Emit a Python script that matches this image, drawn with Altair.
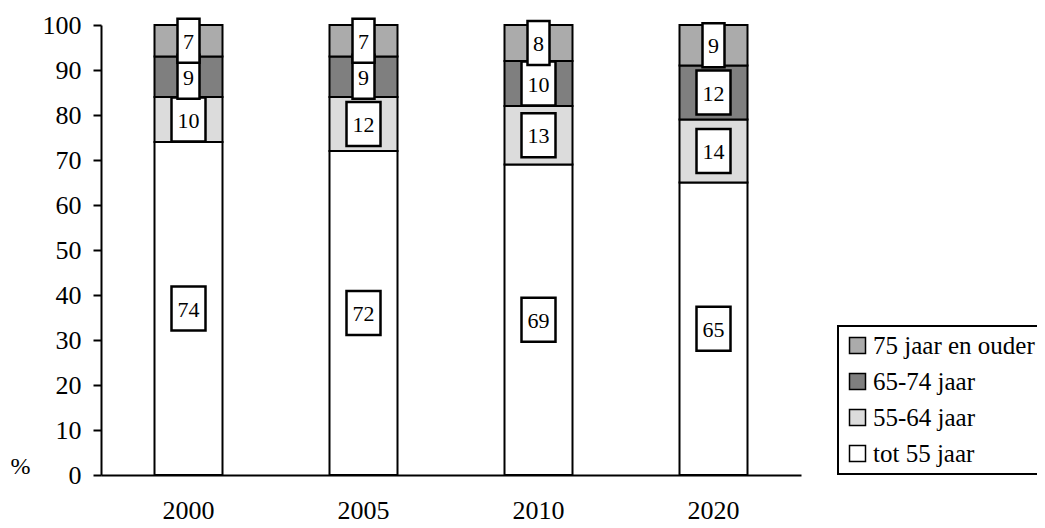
import altair as alt
import pandas as pd

years = ["2000", "2005", "2010", "2020"]
groups = ["tot 55 jaar", "55-64 jaar", "65-74 jaar", "75 jaar en ouder"]
tot55 = [74, 72, 69, 65]
age55_64 = [10, 12, 13, 14]
age65_74 = [9, 9, 10, 12]
age75plus = [7, 7, 8, 9]
colors = ["#ffffff", "#dcdcdc", "#7f7f7f", "#ababab"]

series = [tot55, age55_64, age65_74, age75plus]
rows = []
for yi, yr in enumerate(years):
    base = 0
    for gi, g in enumerate(groups):
        v = series[gi][yi]
        mid = base + v / 2
        rows.append({"year": yr, "group": g, "value": v, "order": gi,
                     "mid": mid, "lo": mid - 4.9, "hi": mid + 4.9,
                     "digits": len(str(v))})
        base += v
df = pd.DataFrame(rows)

FONT = "Times New Roman, Liberation Serif, serif"

x_axis = alt.Axis(title=None, labelAngle=0, ticks=False, labelPadding=22,
                  labelFont=FONT, labelFontSize=26, labelColor="black",
                  domainColor="black", domainWidth=2)
y_axis = alt.Axis(values=list(range(0, 101, 10)), grid=False, tickSize=8,
                  tickWidth=2, tickColor="black", domainColor="black",
                  domainWidth=2, labelPadding=12, labelFont=FONT,
                  labelFontSize=26, labelColor="black",
                  title="%", titleAngle=0, titleX=-81, titleY=448,
                  titleAlign="center", titleBaseline="alphabetic",
                  titleFont=FONT, titleFontSize=24, titleFontWeight="normal",
                  titleColor="black")
y_scale = alt.Scale(domain=[0, 100], nice=False)
x_scale = alt.Scale(paddingInner=0, paddingOuter=0)

xo = alt.X("year:N", sort=years, scale=x_scale, axis=x_axis)

bars = alt.Chart(df).mark_bar(width=68, stroke="black", strokeWidth=2, opacity=1).encode(
    x=xo,
    y=alt.Y("value:Q", stack="zero", scale=y_scale, axis=y_axis),
    color=alt.Color("group:N",
                    scale=alt.Scale(domain=groups, range=colors),
                    legend=alt.Legend(title=None, values=groups[::-1], orient="none",
                                      legendX=737, legendY=301)),
    order=alt.Order("order:Q"),
)

box_enc = dict(x=xo, y=alt.Y("lo:Q", scale=y_scale, axis=y_axis), y2="hi:Q")

# draw boxes per segment so upper boxes overlap lower ones
layers = [bars]
for gi in range(len(groups)):
    sub_box = alt.Chart(df).transform_filter(f"datum.order == {gi}")
    layers.append(sub_box.transform_filter("datum.digits == 1").mark_bar(
        width=22, fill="white", stroke="black", strokeWidth=2.5).encode(**box_enc))
    layers.append(sub_box.transform_filter("datum.digits == 2").mark_bar(
        width=34, fill="white", stroke="black", strokeWidth=2.5).encode(**box_enc))
    layers.append(sub_box.mark_text(font=FONT, fontSize=22, color="black",
                                    baseline="middle", dy=1).encode(
        x=xo, y=alt.Y("mid:Q", scale=y_scale, axis=y_axis), text="value:Q"))

chart = alt.layer(*layers).properties(
    width=700, height=450,
    background="white",
    autosize=alt.AutoSizeParams(type="none"),
    padding={"left": 93, "top": 17, "right": 236, "bottom": 50},
).configure_view(stroke=None).configure_axis(
    labelFont=FONT, titleFont=FONT
).configure_legend(
    strokeColor="black", strokeWidth=2, padding=7, rowPadding=10,
    symbolType="square", symbolSize=256, symbolStrokeColor="black",
    symbolStrokeWidth=1.5, symbolOpacity=1, labelFont=FONT, labelFontSize=25,
    labelColor="black", labelOffset=3, labelLimit=400,
)

chart.save("out.html", embed_options={"renderer": "svg", "actions": False})
